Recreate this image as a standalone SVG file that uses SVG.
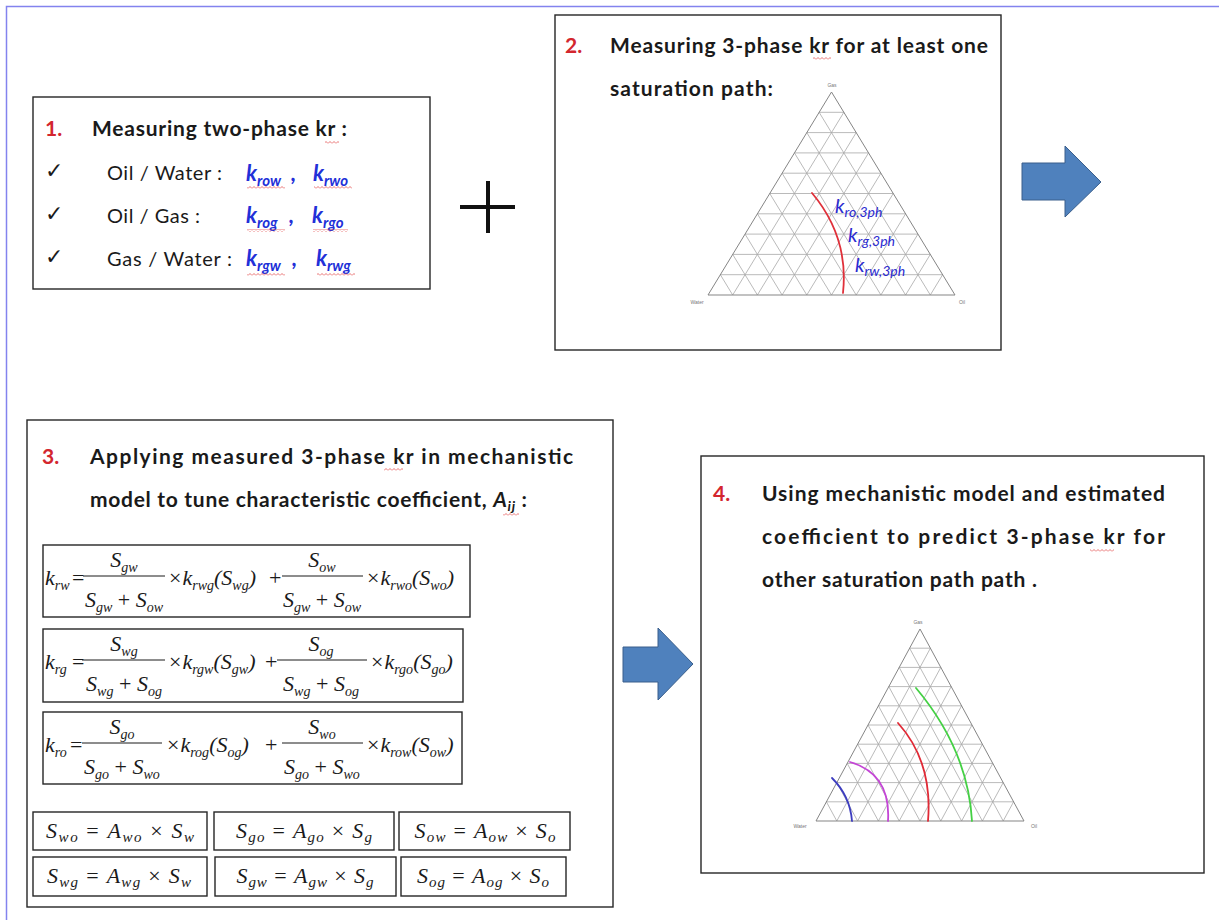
<svg xmlns="http://www.w3.org/2000/svg" width="1219" height="920" viewBox="0 0 1219 920">
<style>
.box{fill:#fff;stroke:#262626;stroke-width:1.4}
.num{font-family:Lato,"Liberation Sans",sans-serif;font-weight:700;font-size:21px;fill:#d3262e}
.hd{font-family:Lato,"Liberation Sans",sans-serif;font-weight:700;font-size:21px;fill:#1a1a1a}
.tx{font-family:Lato,"Liberation Sans",sans-serif;font-size:20px;fill:#1a1a1a}
.ck{font-family:"DejaVu Sans",sans-serif;font-size:22px;fill:#1a1a1a}
.kb{font-family:Lato,"Liberation Sans",sans-serif;font-weight:700;font-style:italic;font-size:22px;fill:#2230d8}
.sb{font-size:15px}
.kl{font-family:Lato,"Liberation Sans",sans-serif;font-style:italic;font-size:20px;fill:#2a2ad0}
.ks{font-size:14px}
.m{font-family:"Liberation Serif",serif;font-style:italic;font-size:22px;fill:#1a1a1a}
.ms{font-size:14px}
.sm{font-family:"Liberation Serif",serif;font-style:italic;font-size:22px;fill:#1a1a1a}
.ss{font-size:15px}
.up{font-style:normal}
.bar{stroke:#1a1a1a;stroke-width:1}
.grid{fill:none;stroke:#a8a8a8;stroke-width:0.8;vector-effect:non-scaling-stroke}
.tri{fill:none;stroke:#858585;stroke-width:1;vector-effect:non-scaling-stroke}
.tl{font-family:"Liberation Sans",sans-serif;font-size:5px;fill:#777}
.arrow{fill:#4f81bd;stroke:#3a5f8c;stroke-width:1}
.wavy{fill:url(#wv)}
.path{fill:none;stroke-width:1.8;stroke-linecap:round}
</style>
<defs>
  <pattern id="wv" width="4" height="3" patternUnits="userSpaceOnUse">
    <path d="M0 2.5L2 0.5L4 2.5" fill="none" stroke="#e03a3a" stroke-width="0.7"/>
  </pattern>
  <!-- ternary grid, 10 divisions, drawn in a 100x100 frame -->
  <g id="tgrid">
    <path class="grid" d="M5 90H95M10 80H90M15 70H85M20 60H80M25 50H75M30 40H70M35 30H65M40 20H60M45 10H55
      M10 100L55 10M20 100L60 20M30 100L65 30M40 100L70 40M50 100L75 50M60 100L80 60M70 100L85 70M80 100L90 80M90 100L95 90
      M10 100L5 90M20 100L10 80M30 100L15 70M40 100L20 60M50 100L25 50M60 100L30 40M70 100L35 30M80 100L40 20M90 100L45 10"/>
    <path class="tri" d="M0 100L50 0L100 100Z"/>
  </g>
</defs>

<rect width="1219" height="920" fill="#fff"/>
<path d="M6.5 920V6.5H1219" fill="none" stroke="#8383ee" stroke-width="1.5"/>

<!-- step 1: two-phase measurements -->
<g id="step1">
  <rect class="box" x="33" y="97" width="397" height="192"/>
  <text class="num" x="45" y="136">1.</text>
  <text class="hd" x="92" y="136" textLength="255" lengthAdjust="spacing">Measuring two-phase kr :</text>
  <rect class="wavy" x="325" y="141" width="14" height="3"/>
  <text class="ck" x="45" y="178">✓</text>
  <text class="tx" x="107" y="180" textLength="115" lengthAdjust="spacing">Oil / Water :</text>
  <text class="kb" x="246" y="181">k<tspan class="sb" dy="5">row</tspan></text>
  <text class="kb" x="291" y="181">,</text>
  <text class="kb" x="313" y="181">k<tspan class="sb" dy="5">rwo</tspan></text>
  <rect class="wavy" x="247" y="186" width="38" height="3"/>
  <rect class="wavy" x="314" y="186" width="38" height="3"/>
  <text class="ck" x="45" y="221">✓</text>
  <text class="tx" x="107" y="223" textLength="93" lengthAdjust="spacing">Oil / Gas :</text>
  <text class="kb" x="246" y="223">k<tspan class="sb" dy="5">rog</tspan></text>
  <text class="kb" x="289" y="223">,</text>
  <text class="kb" x="312" y="223">k<tspan class="sb" dy="5">rgo</tspan></text>
  <rect class="wavy" x="247" y="229" width="38" height="3"/>
  <rect class="wavy" x="313" y="229" width="35" height="3"/>
  <text class="ck" x="45" y="264">✓</text>
  <text class="tx" x="107" y="266" textLength="125" lengthAdjust="spacing">Gas / Water :</text>
  <text class="kb" x="246" y="266">k<tspan class="sb" dy="5">rgw</tspan></text>
  <text class="kb" x="292" y="266">,</text>
  <text class="kb" x="316" y="266">k<tspan class="sb" dy="5">rwg</tspan></text>
  <rect class="wavy" x="247" y="273" width="38" height="3"/>
  <rect class="wavy" x="317" y="273" width="38" height="3"/>
</g>

<!-- plus sign -->
<g id="plus">
  <path d="M460 207H515M488 181V233" stroke="#111" stroke-width="4"/>
</g>

<!-- step 2: three-phase measurement along one path -->
<g id="step2">
  <rect class="box" x="555" y="15" width="446" height="335"/>
  <text class="num" x="565" y="53">2.</text>
  <text class="hd" x="610" y="53" textLength="378" lengthAdjust="spacing">Measuring 3-phase kr for at least one</text>
  <rect class="wavy" x="813" y="57" width="18" height="3"/>
  <text class="hd" x="610" y="96" textLength="163" lengthAdjust="spacing">saturation path:</text>
  <use href="#tgrid" transform="translate(708 92) scale(2.47 2.03)"/>
  <text class="tl" x="832" y="87" text-anchor="middle">Gas</text>
  <text class="tl" x="697" y="304" text-anchor="middle">Water</text>
  <text class="tl" x="962" y="304" text-anchor="middle">Oil</text>
  <path class="path" d="M812 193Q849 237 843 293" stroke="#e0303a"/>
  <text class="kl" x="835" y="213">k<tspan class="ks" dy="4">ro,3ph</tspan></text>
  <text class="kl" x="848" y="242">k<tspan class="ks" dy="4">rg,3ph</tspan></text>
  <text class="kl" x="855" y="272">k<tspan class="ks" dy="4">rw,3ph</tspan></text>
</g>

<!-- step 3: mechanistic model tuning -->
<g id="step3">
  <rect class="box" x="27" y="420" width="586" height="487"/>
  <text class="num" x="42" y="464">3.</text>
  <text class="hd" x="90" y="464" textLength="483" lengthAdjust="spacing">Applying measured 3-phase kr in mechanistic</text>
  <rect class="wavy" x="384" y="468" width="19" height="3"/>
  <text class="hd" x="90" y="507" textLength="437" lengthAdjust="spacing">model to tune characteristic coefficient, <tspan font-style="italic">A</tspan><tspan font-size="14" font-style="italic" dy="4">ij</tspan><tspan dy="-4"> :</tspan></text>
  <rect class="wavy" x="503" y="513" width="16" height="3"/>

  <!-- k_rw -->
  <rect class="box" x="43" y="545" width="427" height="72"/>
  <text class="m" x="45" y="585">k<tspan class="ms" dy="5">rw</tspan></text>
  <text class="m up" x="72" y="585">=</text>
  <text class="m" x="124" y="567" text-anchor="middle">S<tspan class="ms" dy="5">gw</tspan></text>
  <line class="bar" x1="83" y1="576" x2="165" y2="576"/>
  <text class="m" x="124" y="607" text-anchor="middle">S<tspan class="ms" dy="5">gw</tspan><tspan class="up" dy="-5"> + </tspan>S<tspan class="ms" dy="5">ow</tspan></text>
  <text class="m" x="169" y="585"><tspan class="up">×</tspan><tspan dx="1">k</tspan><tspan class="ms" dy="5">rwg</tspan><tspan dy="-5">(S</tspan><tspan class="ms" dy="5">wg</tspan><tspan dy="-5">)</tspan></text>
  <text class="m up" x="269" y="585">+</text>
  <text class="m" x="322" y="567" text-anchor="middle">S<tspan class="ms" dy="5">ow</tspan></text>
  <line class="bar" x1="282" y1="576" x2="363" y2="576"/>
  <text class="m" x="322" y="607" text-anchor="middle">S<tspan class="ms" dy="5">gw</tspan><tspan class="up" dy="-5"> + </tspan>S<tspan class="ms" dy="5">ow</tspan></text>
  <text class="m" x="367" y="585"><tspan class="up">×</tspan><tspan dx="1">k</tspan><tspan class="ms" dy="5">rwo</tspan><tspan dy="-5">(S</tspan><tspan class="ms" dy="5">wo</tspan><tspan dy="-5">)</tspan></text>

  <!-- k_rg -->
  <rect class="box" x="43" y="629" width="420" height="73"/>
  <text class="m" x="45" y="669">k<tspan class="ms" dy="5">rg</tspan></text>
  <text class="m up" x="72" y="669">=</text>
  <text class="m" x="124" y="651" text-anchor="middle">S<tspan class="ms" dy="5">wg</tspan></text>
  <line class="bar" x1="82" y1="660" x2="165" y2="660"/>
  <text class="m" x="124" y="691" text-anchor="middle">S<tspan class="ms" dy="5">wg</tspan><tspan class="up" dy="-5"> + </tspan>S<tspan class="ms" dy="5">og</tspan></text>
  <text class="m" x="169" y="669"><tspan class="up">×</tspan><tspan dx="1">k</tspan><tspan class="ms" dy="5">rgw</tspan><tspan dy="-5">(S</tspan><tspan class="ms" dy="5">gw</tspan><tspan dy="-5">)</tspan></text>
  <text class="m up" x="265" y="669">+</text>
  <text class="m" x="321" y="651" text-anchor="middle">S<tspan class="ms" dy="5">og</tspan></text>
  <line class="bar" x1="277" y1="660" x2="367" y2="660"/>
  <text class="m" x="321" y="691" text-anchor="middle">S<tspan class="ms" dy="5">wg</tspan><tspan class="up" dy="-5"> + </tspan>S<tspan class="ms" dy="5">og</tspan></text>
  <text class="m" x="371" y="669"><tspan class="up">×</tspan><tspan dx="1">k</tspan><tspan class="ms" dy="5">rgo</tspan><tspan dy="-5">(S</tspan><tspan class="ms" dy="5">go</tspan><tspan dy="-5">)</tspan></text>

  <!-- k_ro -->
  <rect class="box" x="43" y="712" width="419" height="72"/>
  <text class="m" x="45" y="752">k<tspan class="ms" dy="5">ro</tspan></text>
  <text class="m up" x="70" y="752">=</text>
  <text class="m" x="122" y="734" text-anchor="middle">S<tspan class="ms" dy="5">go</tspan></text>
  <line class="bar" x1="82" y1="743" x2="162" y2="743"/>
  <text class="m" x="122" y="774" text-anchor="middle">S<tspan class="ms" dy="5">go</tspan><tspan class="up" dy="-5"> + </tspan>S<tspan class="ms" dy="5">wo</tspan></text>
  <text class="m" x="167" y="752"><tspan class="up">×</tspan><tspan dx="1">k</tspan><tspan class="ms" dy="5">rog</tspan><tspan dy="-5">(S</tspan><tspan class="ms" dy="5">og</tspan><tspan dy="-5">)</tspan></text>
  <text class="m up" x="265" y="752">+</text>
  <text class="m" x="322" y="734" text-anchor="middle">S<tspan class="ms" dy="5">wo</tspan></text>
  <line class="bar" x1="282" y1="743" x2="363" y2="743"/>
  <text class="m" x="322" y="774" text-anchor="middle">S<tspan class="ms" dy="5">go</tspan><tspan class="up" dy="-5"> + </tspan>S<tspan class="ms" dy="5">wo</tspan></text>
  <text class="m" x="367" y="752"><tspan class="up">×</tspan><tspan dx="1">k</tspan><tspan class="ms" dy="5">row</tspan><tspan dy="-5">(S</tspan><tspan class="ms" dy="5">ow</tspan><tspan dy="-5">)</tspan></text>

  <!-- scaled saturations -->
  <rect class="box" x="33" y="812" width="174" height="38"/>
  <text class="sm" x="120" y="838" text-anchor="middle" textLength="148" lengthAdjust="spacing">S<tspan class="ss" dy="4">wo</tspan><tspan class="up" dy="-4"> = </tspan>A<tspan class="ss" dy="4">wo</tspan><tspan class="up" dy="-4"> × </tspan>S<tspan class="ss" dy="4">w</tspan></text>
  <rect class="box" x="214" y="812" width="180" height="38"/>
  <text class="sm" x="304" y="838" text-anchor="middle" textLength="136" lengthAdjust="spacing">S<tspan class="ss" dy="4">go</tspan><tspan class="up" dy="-4"> = </tspan>A<tspan class="ss" dy="4">go</tspan><tspan class="up" dy="-4"> × </tspan>S<tspan class="ss" dy="4">g</tspan></text>
  <rect class="box" x="399" y="812" width="171" height="38"/>
  <text class="sm" x="485" y="838" text-anchor="middle" textLength="141" lengthAdjust="spacing">S<tspan class="ss" dy="4">ow</tspan><tspan class="up" dy="-4"> = </tspan>A<tspan class="ss" dy="4">ow</tspan><tspan class="up" dy="-4"> × </tspan>S<tspan class="ss" dy="4">o</tspan></text>
  <rect class="box" x="33" y="857" width="174" height="39"/>
  <text class="sm" x="119" y="883" text-anchor="middle" textLength="144" lengthAdjust="spacing">S<tspan class="ss" dy="4">wg</tspan><tspan class="up" dy="-4"> = </tspan>A<tspan class="ss" dy="4">wg</tspan><tspan class="up" dy="-4"> × </tspan>S<tspan class="ss" dy="4">w</tspan></text>
  <rect class="box" x="215" y="857" width="181" height="39"/>
  <text class="sm" x="305" y="883" text-anchor="middle" textLength="137" lengthAdjust="spacing">S<tspan class="ss" dy="4">gw</tspan><tspan class="up" dy="-4"> = </tspan>A<tspan class="ss" dy="4">gw</tspan><tspan class="up" dy="-4"> × </tspan>S<tspan class="ss" dy="4">g</tspan></text>
  <rect class="box" x="401" y="857" width="165" height="39"/>
  <text class="sm" x="483" y="883" text-anchor="middle" textLength="132" lengthAdjust="spacing">S<tspan class="ss" dy="4">og</tspan><tspan class="up" dy="-4"> = </tspan>A<tspan class="ss" dy="4">og</tspan><tspan class="up" dy="-4"> × </tspan>S<tspan class="ss" dy="4">o</tspan></text>
</g>

<!-- step 4: prediction for other paths -->
<g id="step4">
  <rect class="box" x="701" y="456" width="503" height="417"/>
  <text class="num" x="713" y="501">4.</text>
  <text class="hd" x="762" y="501" textLength="403" lengthAdjust="spacing">Using mechanistic model and estimated</text>
  <text class="hd" x="762" y="544" textLength="403" lengthAdjust="spacing">coefficient to predict 3-phase kr  for</text>
  <rect class="wavy" x="1090" y="549" width="24" height="3"/>
  <text class="hd" x="762" y="587" textLength="275" lengthAdjust="spacing">other saturation path path .</text>
  <use href="#tgrid" transform="translate(816 629) scale(2.08 1.92)"/>
  <text class="tl" x="918" y="624" text-anchor="middle">Gas</text>
  <text class="tl" x="800" y="828" text-anchor="middle">Water</text>
  <text class="tl" x="1034" y="828" text-anchor="middle">Oil</text>
  <path class="path" d="M832 778Q850 796 852 821" stroke="#3d3dbf"/>
  <path class="path" d="M850 762Q891 774 888 821" stroke="#c445d6"/>
  <path class="path" d="M898 723Q933 762 928 821" stroke="#e02a36"/>
  <path class="path" d="M916 688Q968 750 972 821" stroke="#44d044"/>
</g>

<!-- flow arrows -->
<g id="connectors">
  <path class="arrow" d="M1022 163H1065V146L1101 182L1065 217V200H1022Z"/>
  <path class="arrow" d="M623 647H658V628L693 664L658 700V682H623Z"/>
</g>
</svg>
